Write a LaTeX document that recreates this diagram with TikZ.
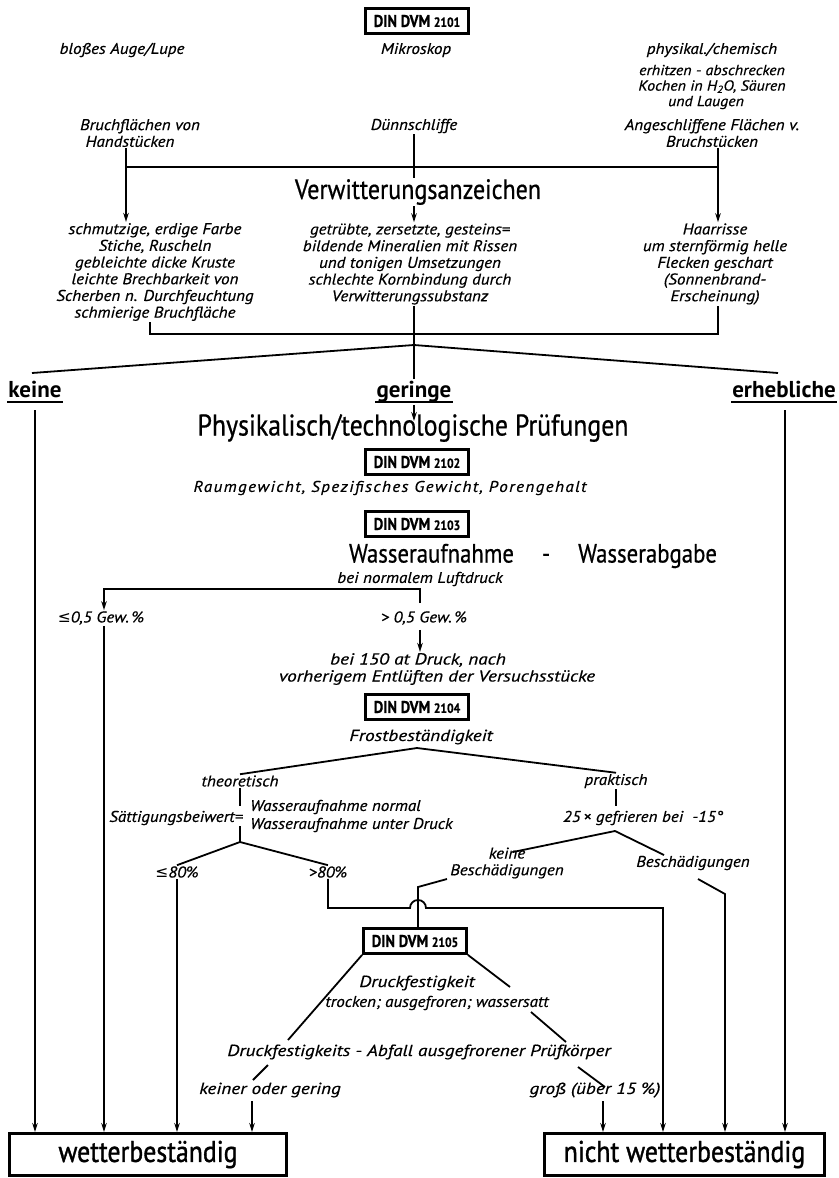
\documentclass[tikz,border=0pt]{standalone}
\usepackage{fontspec}
\setmainfont{PT Sans}
\newfontfamily\condf[FakeStretch=0.86,FakeBold=0.6]{PT Sans}
\newfontfamily\resf[FakeStretch=0.86,FakeBold=1.2]{PT Sans}
\newfontfamily\smf[FakeStretch=1.1,FakeBold=0.5]{PT Sans}
\newfontfamily\smwf[FakeStretch=1.2,FakeBold=0.5]{PT Sans}
\newfontfamily\symf{DejaVu Sans}
\usetikzlibrary{arrows.meta}
\pgfdeclarelayer{back}
\pgfdeclarelayer{bg}
\pgfsetlayers{back,bg,main}
\tikzset{
  sm/.style={font=\smf\itshape\fontsize{15.5}{16.7}\selectfont, inner sep=1pt, align=center},
  smw/.style={font=\smwf\itshape\fontsize{16}{17}\selectfont, inner sep=1pt, align=center},
  smx/.style={font=\smf\itshape\fontsize{14.5}{15.5}\selectfont, inner sep=1pt, align=center},
  big/.style={font=\condf\fontsize{28}{30}\selectfont, inner sep=1pt},
  dinbox/.style={draw, line width=2.8pt, minimum width=103pt, minimum height=25pt, inner sep=0pt,
    font=\condf\bfseries\fontsize{17}{18}\selectfont},
  ln/.style={line width=1.8pt},
  arr/.style={line width=1.8pt, -{Stealth[length=9pt,width=5.5pt]}},
  resbox/.style={draw, line width=3pt, minimum height=42pt, inner sep=0pt,
    font=\resf\fontsize{30}{32}\selectfont},
  ulw/.style={font=\bfseries\fontsize{23}{25}\selectfont, inner sep=1pt, anchor=base},
  ulline/.style={line width=2.6pt}
}
\newcommand{\dinnum}[1]{{\fontsize{13.5}{14}\selectfont #1}}
\begin{document}
\begin{tikzpicture}[x=1pt,y=-1pt]
\begin{pgfonlayer}{back}
\fill[white] (0,0) rectangle (838,1178);
\end{pgfonlayer}
\useasboundingbox (0,0) rectangle (838,1178);

% --- top level
\node[dinbox] (d1) at (417,21) {DIN DVM \dinnum{2101}};
\node[sm] (auge) at (122,50) {bloßes Auge/Lupe};
\node[sm] (mikro) at (416,50) {Mikroskop};
\node[sm] (phys) at (712,50) {physikal./chemisch};
\node[smx] (erh) at (712,87) {erhitzen - abschrecken\\Kochen in H\textsubscript{2}O, Säuren\\und Laugen\hspace*{12pt}};
\node[sm] (bruch) at (140,133) {Bruchflächen von\\Handstücken\hspace*{20pt}};
\node[sm] (duenn) at (414,126) {Dünnschliffe};
\node[sm] (anges) at (712,133) {Angeschliffene Flächen v.\\Bruchstücken};

\node[big, fill=white] (verw) at (418,192) {Verwitterungsanzeichen};

\node[sm] (b1) at (155,272) {schmutzige, erdige Farbe\\Stiche, Ruscheln\hspace*{36pt}\\gebleichte dicke Kruste\\leichte Brechbarkeit von\\Scherben n. Durchfeuchtung\\schmierige Bruchfläche};
\node[sm] (b2) at (410,264) {getrübte, zersetzte, gesteins=\\bildende Mineralien mit Rissen\\und tonigen Umsetzungen\\schlechte Kornbindung durch\\Verwitterungssubstanz};
\node[sm] (b3) at (715,264) {Haarrisse\\um sternförmig helle\\Flecken geschart\\(Sonnenbrand-\\Erscheinung)};

\coordinate (bl) at (126,167);
\coordinate (br) at (718,167);
\draw[ln] (bruch.south -| bl) -- (bl) -- (br) -- (anges.south -| br);
\draw[arr] (bl) -- (b1.north -| bl);
\draw[arr] (br) -- (b3.north -| br);
\begin{pgfonlayer}{bg}
\draw[arr] (duenn.south) -- (b2.north -| duenn.south);
\end{pgfonlayer}

% --- second bracket and fan
\coordinate (cl) at (150,334);
\coordinate (cr) at (718,334);
\coordinate (cm) at (414,334);
\draw[ln] (b1.south -| cl) -- (cl) -- (cr) -- (b3.south -| cr);
\coordinate (apex1) at (414,345);
\coordinate (fl) at (32,373);
\coordinate (fr) at (778,373);
\draw[ln] (fl) -- (apex1) -- (fr);

\node[ulw] (keine) at (35,397) {keine};
\node[ulw] (geringe) at (414,397) {geringe};
\node[ulw] (erheb) at (784,397) {erhebliche};
\draw[ulline] ([yshift=-5pt]keine.base west) -- ([yshift=-5pt]keine.base east);
\draw[ulline] ([yshift=-5pt]geringe.base west) -- ([yshift=-5pt]geringe.base east);
\draw[ulline] ([yshift=-5pt]erheb.base west) -- ([yshift=-5pt]erheb.base east);
\draw[ln] (b2.south -| cm) -- (geringe.north);

\node[big, font=\condf\fontsize{30}{32}\selectfont] (physik) at (413,428) {Physikalisch/technologische Prüfungen};
\coordinate (pk) at (414,421);
\draw[arr] ([yshift=-8pt]geringe.base) -- (pk);

\node[dinbox] (d2) at (417,462) {DIN DVM \dinnum{2102}};
\node[sm, font=\smf\itshape\fontsize{15.5}{17}\selectfont\addfontfeature{LetterSpace=9}] (raum) at (390,488) {Raumgewicht, Spezifisches Gewicht, Porengehalt};
\node[dinbox] (d3) at (417,524) {DIN DVM \dinnum{2103}};
\node[big, font=\condf\fontsize{26.5}{28}\selectfont] (wass) at (533,556) {Wasseraufnahme\hspace{28pt}-\hspace{28pt}Wasserabgabe};
\node[sm] (luft) at (420,579) {bei normalem Luftdruck};

\coordinate (ll) at (104,589);
\coordinate (lr) at (420,589);
\coordinate (lrd) at (420,603);
\node[sm] (le05) at (101,618) {{\symf\itshape ≤}0,5 Gew.\,\%};
\node[sm] (gt05) at (424,618) {> 0,5 Gew.\,\%};
\draw[arr] (lrd) -- (lr) -- (ll) -- (le05.north -| ll);
\node[smw] (bei150) at (437,669) {bei 150 at Druck, nach\hspace*{38pt}\\vorherigem Entlüften der Versuchsstücke};
\draw[arr] ([yshift=-4pt]gt05.south -| lr) -- (bei150.north -| lr);

\node[dinbox] (d4) at (417,707) {DIN DVM \dinnum{2104}};
\node[smw] (frost) at (421,737) {Frostbeständigkeit};
\coordinate (apex2) at (417,748);
\node[sm] (theo) at (240,781) {theoretisch};
\node[sm] (prak) at (616,781) {praktisch};
\draw[ln] (theo.north) -- (apex2) -- (prak.north);

\node[sm, anchor=east] (saett) at (244,818) {Sättigungsbeiwert=};
\node[sm, anchor=west, align=left, font=\smf\itshape\fontsize{15.5}{18}\selectfont] (frac) at (249,816) {Wasseraufnahme normal\\Wasseraufnahme unter Druck};
\coordinate (t1) at (240,806);
\coordinate (t2) at (240,826);
\coordinate (apex3) at (240,842);
\draw[ln] (theo.south) -- (t1);
\draw[ln] (t2) -- (apex3);
\node[sm] (le80) at (177,872) {{\symf\itshape ≤}80\%};
\node[sm] (gt80) at (328,872) {>80\%};
\draw[ln] (le80.north) -- (apex3) -- (gt80.north);

\coordinate (p1) at (616,806);
\draw[ln] (prak.south) -- (p1);
\node[sm] (gefr) at (643,818) {25\,× gefrieren bei\ \ -15°};
\coordinate (apex4) at (615,831);
\coordinate (kb1) at (513,852);
\coordinate (rb1) at (664,855);
\draw[ln] (kb1) -- (apex4) -- (rb1);
\node[sm] (keineB) at (507,863) {keine\\Beschädigungen};
\node[sm] (besch) at (693,863) {Beschädigungen};

% --- crossing lines
\coordinate (h1) at (328,908);
\coordinate (hop) at (418,908);
\coordinate (h2) at (663,908);
\coordinate (kb2) at (447,879);
\coordinate (kb3) at (418,887);
\coordinate (rb2) at (698,879);
\coordinate (rb3) at (725,894);

\node[dinbox] (d5) at (415,941) {DIN DVM \dinnum{2105}};
\draw[ln] (kb2) -- (kb3) -- (kb3 |- d5.north);

\node[smw] (druck) at (417,983) {Druckfestigkeit};
\node[sm] (trock) at (437,1003) {trocken; ausgefroren; wassersatt};
\coordinate (dl) at (288,1040);
\coordinate (dr1) at (510,987);
\coordinate (dr2) at (531,1012);
\coordinate (dr3) at (566,1042);
\draw[ln] (d5.south west) -- (dl);
\draw[ln] (d5.south east) -- (dr1);
\draw[ln] (dr2) -- (dr3);
\node[smw] (abfall) at (419,1052) {Druckfestigkeits - Abfall ausgefrorener Prüfkörper};
\coordinate (k1) at (268,1065);
\coordinate (k2) at (253,1080);
\coordinate (g1) at (578,1067);
\coordinate (g2) at (605,1087);
\draw[ln] (k1) -- (k2);
\draw[ln] (g1) -- (g2);
\node[smw] (keiner) at (270,1090) {keiner oder gering};
\node[smw] (gross) at (595,1090) {groß (über 15 \%)};
\coordinate (kx) at (252,1101);
\coordinate (gx) at (603,1101);

% --- result boxes
\node[resbox, minimum width=277pt] (wb) at (148,1154.5) {wetterbeständig};
\node[resbox, minimum width=280pt] (nwb) at (684.5,1154.5) {nicht wetterbeständig};

\coordinate (kv) at (35,410);
\coordinate (ev) at (785,410);
\draw[arr] (kv) -- (wb.north -| kv);
\draw[arr] (le05.south -| ll) -- (wb.north -| ll);
\draw[arr] (le80.south) -- (wb.north -| le80.south);
\draw[arr] (kx) -- (wb.north -| kx);
\draw[arr] (gx) -- (nwb.north -| gx);
\draw[arr] (gt80.south) -- (h1) -- ([xshift=-8pt]hop) arc[start angle=180,end angle=360,radius=8] -- (h2) -- (nwb.north -| h2);
\draw[arr] (rb2) -- (rb3) -- (nwb.north -| rb3);
\draw[arr] (ev) -- (nwb.north -| ev);
\end{tikzpicture}
\end{document}
